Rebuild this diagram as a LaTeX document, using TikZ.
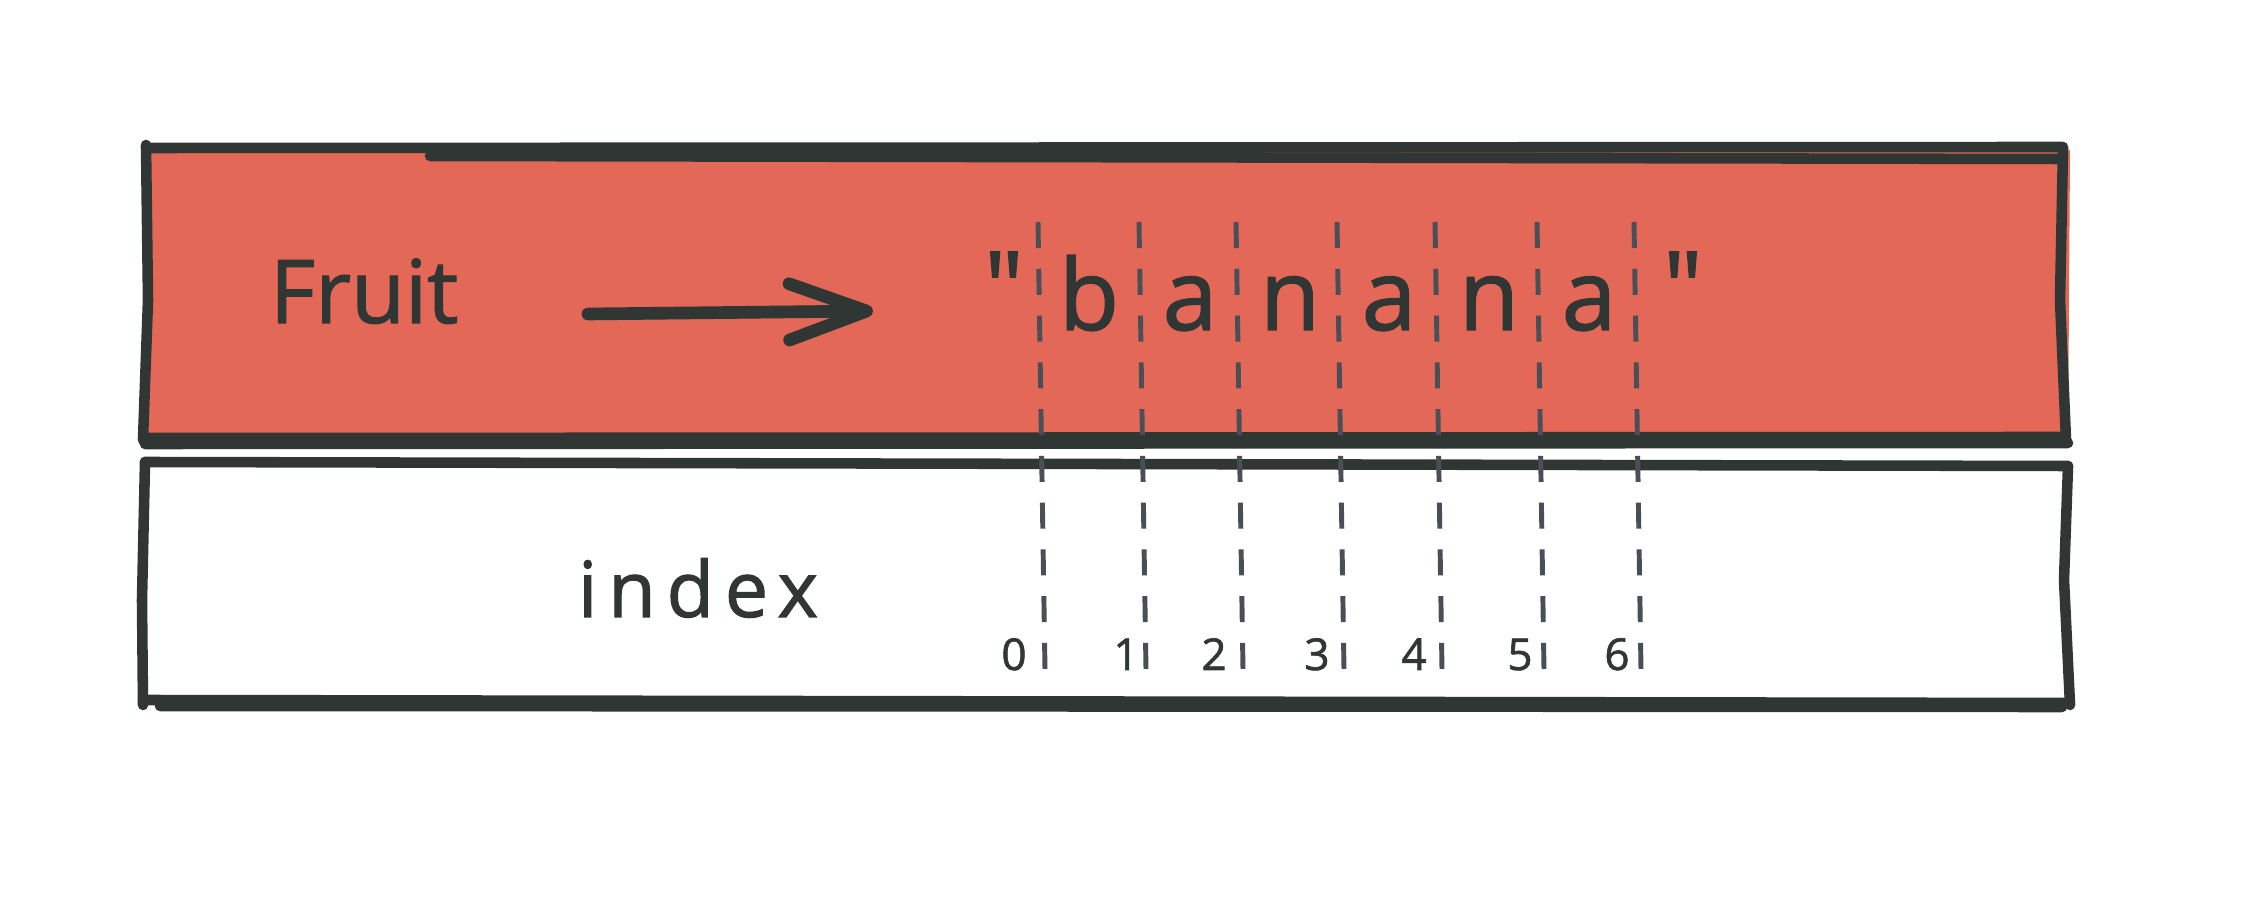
\documentclass[tikz,border=0pt]{standalone}
\usepackage{fontspec}
\setmainfont{Open Sans}
\newfontfamily\hand{Open Sans}[UprightFeatures={FakeBold=1.4}]
\usetikzlibrary{arrows.meta}
\definecolor{boxred}{HTML}{E36857}
\definecolor{ink}{HTML}{2F3634}
\definecolor{dashgray}{HTML}{4A4F57}
\begin{document}
\begin{tikzpicture}[x=0.01cm,y=-0.01cm,
  edge/.style={draw=ink, line width=3pt, line cap=round, line join=round},
  divider/.style={draw=dashgray, line width=1.4pt, dash pattern=on 7.4pt off 5.9pt},
  txt/.style={text=ink, inner sep=0pt},
  letter/.style={txt, font=\hand\fontsize{28}{30}\selectfont, anchor=base},
  digit/.style={txt, font=\hand\fontsize{12.5}{14}\selectfont, anchor=base},
  arrowline/.style={draw=ink, line width=3.6pt, line cap=round, -{Straight Barb[length=22pt,width=16pt,round]}}]
\useasboundingbox (0,0) rectangle (2248,910);
\fill[white] (0,0) rectangle (2248,910);
% top box fill
\fill[boxred] (148,152) -- (2070,150) -- (2068,446) -- (146,446) -- cycle;
% top box edges (sketchy double strokes)
\draw[edge] (146,148) -- (2062,147);
\draw[edge] (430,156) -- (2063,159);
\draw[edge] (146,145) -- (148,300) -- (143,440);
\draw[edge] (2063,147) -- (2060,300) -- (2066,440);
\draw[edge] (145,438) -- (2062,437);
\draw[edge] (145,444) -- (2068,443);
% bottom box edges
\draw[edge] (145,462) -- (2068,466);
\draw[edge] (145,462) -- (142,600) -- (143,705);
\draw[edge] (2068,466) -- (2064,580) -- (2070,705);
\draw[edge] (143,700) -- (2070,703);
\draw[edge] (160,706) -- (2062,707);
% dashed dividers
\foreach \i/\x in {0/1038,1/1139,2/1236,3/1337,4/1435,5/1537,6/1634}{
  \coordinate (t\i) at (\x,222);
  \coordinate (u\i) at (\x+7,670);
  \draw[divider] (t\i) -- (u\i);
}
% labels
\node[txt, font=\hand\fontsize{25}{28}\selectfont, anchor=base] (fruit) at (364,323) {Fruit};
\node[txt, font=\hand\fontsize{22}{24}\selectfont\addfontfeature{LetterSpace=14}, anchor=base] (index) at (698,617) {index};
% arrow
\coordinate (as) at (588,314);
\coordinate (ae) at (873,311);
\draw[arrowline] (as) -- (ae);
% string
\node[letter] (q1) at (1004,322) {"};
\node[letter] (b) at (1089,330) {b};
\node[letter] (a1) at (1190,330) {a};
\node[letter] (n1) at (1290,330) {n};
\node[letter] (a2) at (1389,330) {a};
\node[letter] (n2) at (1489,330) {n};
\node[letter] (a3) at (1589,330) {a};
\node[letter] (q2) at (1683,322) {"};
% indices
\node[digit] (d0) at (1014,670) {0};
\node[digit] (d1) at (1126,670) {1};
\node[digit] (d2) at (1214,670) {2};
\node[digit] (d3) at (1317,670) {3};
\node[digit] (d4) at (1414,670) {4};
\node[digit] (d5) at (1520,670) {5};
\node[digit] (d6) at (1617,670) {6};
\end{tikzpicture}
\end{document}
